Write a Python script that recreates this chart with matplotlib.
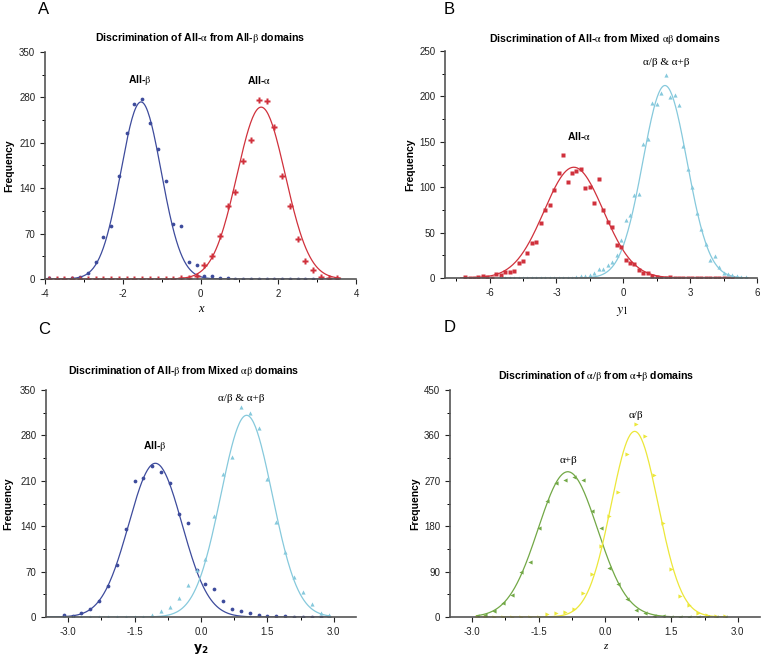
import numpy as np
import matplotlib
matplotlib.use("Agg")
import matplotlib.pyplot as plt
from matplotlib.ticker import MultipleLocator, FormatStrFormatter

plt.rcParams["font.family"] = ["Liberation Sans", "DejaVu Sans"]
plt.rcParams["axes.unicode_minus"] = False
plt.rcParams["mathtext.fontset"] = "stix"

# ---------------- Panel A: All-alpha vs All-beta ----------------
a_x = [-3.9, -3.7, -3.5, -3.3, -3.1, -2.9, -2.7, -2.5, -2.3, -2.1, -1.9, -1.7,
       -1.5, -1.3, -1.1, -0.9, -0.7, -0.5, -0.3, -0.1, 0.1, 0.3, 0.5, 0.7, 0.9,
       1.1, 1.3, 1.5, 1.7, 1.9, 2.1, 2.3, 2.5, 2.7, 2.9, 3.1, 3.3, 3.5]
a_beta = [1, 0, 0, 2, 3, 10, 26, 64, 81, 159, 225, 270, 277, 240, 200, 151, 85,
          81, 26, 22, 5, 4, 2, 1, 0.5, 0.5, 0.5, 0.5, 0.5, 0.5, 0.5, 0.5, 0.5,
          0.5, 0.5, 0.5, 0.5, 0.5]
a_alpha = [0.5, 0.5, 0.5, 0.5, 0.5, 0.5, 0.5, 0.5, 0.5, 0.5, 0.5, 0.5, 0.5,
           0.5, 0.5, 0.5, 0.5, 2, 2, 5, 21, 36, 67, 113, 134, 182, 214, 276,
           275, 235, 159, 113, 61, 27, 14, 3, 1, 1]
# gaussian fits: peak, centre, sigma
a_beta_fit = (273, -1.53, 0.52)
a_alpha_fit = (265, 1.56, 0.62)

# ---------------- Panel B: All-alpha vs mixed ----------------
b_red_x = [-7.1, -6.9, -6.7, -6.5, -6.3, -6.1, -5.9, -5.7, -5.5, -5.3, -5.1,
           -4.9, -4.7, -4.5, -4.3, -4.1, -3.9, -3.7, -3.5, -3.3, -3.1, -2.9,
           -2.7, -2.5, -2.3, -2.1, -1.9, -1.7, -1.5, -1.3, -1.1, -0.9, -0.7,
           -0.5, -0.3, -0.1, 0.1, 0.3, 0.5, 0.7, 0.9, 1.1, 1.3, 1.5, 1.7, 1.9,
           2.1, 2.3, 2.5, 2.7, 2.9, 3.1, 3.3, 3.5, 3.7, 3.9, 4.1, 4.3, 4.5,
           4.7, 4.9]
b_red = [1, 0, 0, 1.5, 2, 1.5, 0.5, 4, 3, 7, 7, 8, 17, 19, 27, 38, 40, 61, 75,
         80, 97, 116, 136, 106, 116, 118, 120, 99, 100, 83, 109, 75, 62, 56,
         36, 34, 20, 17, 15, 8.5, 5.5, 5.5, 2, 1, 0.5, 0.5, 1, 0.5, 0.5, 0.5,
         0.5, 0.5, 0.5, 0.5, 0.5, 0.5, 0.5, 0.5, 0.5, 0.5, 0.5]
b_cyan_x = [-5.5, -5.3, -5.1, -4.9, -4.7, -4.5, -4.3, -4.1, -3.9, -3.7, -3.5,
            -3.3, -3.1, -2.9, -2.7, -2.5, -2.3, -2.1, -1.9, -1.7, -1.5, -1.3,
            -1.1, -0.9, -0.7, -0.5, -0.3, -0.1, 0.1, 0.3, 0.5, 0.7, 0.9, 1.1,
            1.3, 1.5, 1.7, 1.9, 2.1, 2.3, 2.5, 2.7, 2.9, 3.1, 3.3, 3.5, 3.7,
            3.9, 4.1, 4.3, 4.5, 4.7, 4.9, 5.1, 5.3, 5.5]
b_cyan = [0.5, 0.5, 0.5, 0.5, 0.5, 0.5, 0.5, 0.5, 0.5, 0.5, 0.5, 0.5, 0.5,
          0.5, 0.5, 0.5, 0.5, 1, 2, 2, 3, 5, 10, 10, 14, 18, 25, 42, 64, 69,
          91, 93, 148, 153, 193, 192, 204, 224, 199, 202, 191, 145, 120, 100,
          72, 54, 37, 20, 24, 12, 6, 4, 3, 2, 1, 1.5]
b_red_fit = (122, -2.22, 1.33)
b_cyan_fit = (212, 1.87, 0.99)

# ---------------- Panel C: All-beta vs mixed ----------------
c_x = [-3.1, -2.9, -2.7, -2.5, -2.3, -2.1, -1.9, -1.7, -1.5, -1.3, -1.1, -0.9,
       -0.7, -0.5, -0.3, -0.1, 0.1, 0.3, 0.5, 0.7, 0.9, 1.1, 1.3, 1.5, 1.7,
       1.9, 2.1, 2.3, 2.5, 2.7, 2.9]
c_beta = [3, 1.5, 6, 12, 24, 48, 80, 135, 210, 215, 233, 224, 207, 159, 145,
          72, 51, 43, 24, 12, 10, 6, 2.6, 1.5, 1.5, 1, 0.5, 0.5, 0.5, 0.5, 0.5]
c_mixed = [0.5, 0.5, 0.5, 0.5, 0.5, 0.5, 0.5, 0.5, 0.5, 0.5, 3.5, 9, 15, 29,
           49, 72, 90, 156, 220, 246, 324, 314, 292, 213, 146, 100, 61, 38,
           20.5, 6, 3]
c_beta_fit = (237, -1.03, 0.60)
c_mixed_fit = (311, 1.03, 0.58)

# ---------------- Panel D: alpha/beta vs alpha+beta ----------------
d_x = [-2.9, -2.7, -2.5, -2.3, -2.1, -1.9, -1.7, -1.5, -1.3, -1.1, -0.9, -0.7,
       -0.5, -0.3, -0.1, 0.1, 0.3, 0.5, 0.7, 0.9, 1.1, 1.3, 1.5, 1.7, 1.9,
       2.1, 2.3, 2.5, 2.7]
d_apb = [2.6, 4.6, 12.5, 28, 43, 89, 109, 177, 230, 265, 271, 277, 272, 210,
         177, 98, 65, 35, 14, 8, 2.6, 1, 0.5, 0.5, 0.5, 0.5, 0.5, 0.5, 0.5]
d_aob = [0.5, 0.5, 0.5, 0.5, 0.5, 0.5, 0.5, 0.5, 5, 7, 9, 16, 47, 85, 140,
         200, 247, 324, 383, 358, 282, 187, 95, 41, 24, 8, 3, 1.5, 1]
d_apb_fit = (288, -0.84, 0.67)
d_aob_fit = (368, 0.67, 0.53)

navy = "#3d4b9c"
red = "#d0313c"
cyan = "#86c9dc"
green = "#72a846"
yellow = "#ece73a"

AL = r"$\mathrm{\alpha}$"
BE = r"$\mathrm{\beta}$"


def gauss(xs, fit):
    h, mu, s = fit
    return h * np.exp(-(xs - mu) ** 2 / (2 * s ** 2))


def style(ax, xlim, ylim, xmaj, ymaj, xfmt):
    ax.set_xlim(*xlim)
    ax.set_ylim(*ylim)
    ax.spines["top"].set_visible(False)
    ax.spines["right"].set_visible(False)
    for s in ("left", "bottom"):
        ax.spines[s].set_color("#555555")
        ax.spines[s].set_linewidth(1.2)
    ax.xaxis.set_major_locator(MultipleLocator(xmaj))
    ax.xaxis.set_minor_locator(MultipleLocator(xmaj / 2))
    ax.yaxis.set_major_locator(MultipleLocator(ymaj))
    ax.yaxis.set_minor_locator(MultipleLocator(ymaj / 2))
    ax.xaxis.set_major_formatter(FormatStrFormatter(xfmt))
    ax.tick_params(which="major", length=3.5, width=0.8, labelsize=7,
                   colors="#222222", direction="out")
    ax.tick_params(which="minor", length=2, width=0.7, direction="out")
    ax.set_ylabel("Frequency", fontsize=7.5, fontweight="bold")


def title(ax, txt, xc, yc):
    ax.text(xc, yc, txt, transform=ax.transAxes, ha="center", va="center",
            fontsize=7.6, fontweight="bold")


fig = plt.figure(figsize=(7.64, 6.59), dpi=100)
W, H = 764.0, 659.0


def make_axes(l, r, t, b):
    return fig.add_axes([l / W, 1 - b / H, (r - l) / W, (b - t) / H])


axA = make_axes(45, 356, 52, 279)
axB = make_axes(445, 757, 51, 278)
axC = make_axes(46, 356, 390, 617)
axD = make_axes(450, 760, 390, 617)

ms = 2.7

# A
xs = np.linspace(-4, 3.6, 300)
axA.plot(xs, gauss(xs, a_beta_fit), color=navy, lw=0.9)
axA.plot(xs, gauss(xs, a_alpha_fit), color=red, lw=0.9)
axA.plot(a_x, a_beta, "o", color=navy, ms=ms, mec="none")
axA.plot(a_x, a_alpha, "P", color=red, ms=ms + 1.0, mec="none")
style(axA, (-4, 4), (0, 350), 2, 70, "%g")
title(axA, "Discrimination of All-" + AL + " from All-" + BE + " domains", 0.5, 1.062)
axA.text(-1.55, 307, "All-" + BE, ha="center", va="center", fontsize=7.5, fontweight="bold")
axA.text(1.5, 307, "All-" + AL, ha="center", va="center", fontsize=7.5, fontweight="bold")
axA.set_xlabel("x", fontsize=9, family="Liberation Serif", style="italic")
axA.xaxis.set_label_coords(0.5, -0.105)
axA.yaxis.set_label_coords(-0.10, 0.5)

# B
xs_r = np.linspace(-7.3, 5.0, 300)
xs_c = np.linspace(-5.6, 5.6, 300)
axB.plot(xs_r, gauss(xs_r, b_red_fit), color=red, lw=0.9)
axB.plot(xs_c, gauss(xs_c, b_cyan_fit), color=cyan, lw=0.9)
axB.plot(b_red_x, b_red, "s", color=red, ms=ms, mec="none")
axB.plot(b_cyan_x, b_cyan, "^", color=cyan, ms=ms + 0.3, mec="none")
style(axB, (-8, 6), (0, 250), 3, 50, "%g")
title(axB, "Discrimination of All-" + AL + " from Mixed " + r"$\mathrm{\alpha\beta}$" + " domains",
      0.511, 1.052)
axB.text(-1.99, 156, "All-" + AL, ha="center", va="center", fontsize=7.5, fontweight="bold")
axB.text(1.92, 237, "α/β & α+β", ha="center", va="center", fontsize=8, family="Liberation Serif")
axB.set_xlabel(r"$y_1$", fontsize=10)
axB.xaxis.set_label_coords(0.567, -0.115)
axB.yaxis.set_label_coords(-0.096, 0.5)

# C
xs = np.linspace(-3.5, 2.9, 300)
axC.plot(xs, gauss(xs, c_beta_fit), color=navy, lw=0.9)
axC.plot(xs, gauss(xs, c_mixed_fit), color=cyan, lw=0.9)
axC.plot(c_x, c_beta, "o", color=navy, ms=ms, mec="none")
axC.plot(c_x, c_mixed, "^", color=cyan, ms=ms + 0.3, mec="none")
style(axC, (-3.5, 3.5), (0, 350), 1.5, 70, "%.1f")
title(axC, "Discrimination of All-" + BE + " from Mixed " + r"$\mathrm{\alpha\beta}$" + " domains",
      0.444, 1.084)
axC.text(-1.04, 264, "All-" + BE, ha="center", va="center", fontsize=7.5, fontweight="bold")
axC.text(0.9, 337, "α/β & α+β", ha="center", va="center", fontsize=8, family="Liberation Serif")
axC.set_xlabel(r"$\mathbf{y_2}$", fontsize=9, math_fontfamily="dejavusans")
axC.xaxis.set_label_coords(0.5, -0.11)
axC.yaxis.set_label_coords(-0.106, 0.5)

# D
xs = np.linspace(-2.9, 2.7, 300)
axD.plot(xs, gauss(xs, d_apb_fit), color=green, lw=0.9)
axD.plot(xs, gauss(xs, d_aob_fit), color=yellow, lw=0.9)
axD.plot(d_x, d_apb, "<", color=green, ms=ms + 0.3, mec="none")
axD.plot(d_x, d_aob, ">", color=yellow, ms=ms + 0.3, mec="none")
style(axD, (-3.5, 3.5), (0, 450), 1.5, 90, "%.1f")
title(axD, "Discrimination of " + r"$\mathrm{\alpha/\beta}$" + " from " + AL + "+" + BE
      + " domains", 0.471, 1.062)
axD.text(0.70, 400, "α/β", ha="center", va="center", fontsize=8, family="Liberation Serif")
axD.text(-0.835, 311, "α+β", ha="center", va="center", fontsize=8, family="Liberation Serif")
axD.set_xlabel("z", fontsize=8, family="Liberation Serif", style="italic")
axD.xaxis.set_label_coords(0.5, -0.11)
axD.yaxis.set_label_coords(-0.097, 0.5)

# panel letters
for lab, px, py in [("A", 38, 10), ("B", 444, 10), ("C", 38, 330), ("D", 444, 328)]:
    fig.text(px / W, 1 - py / H, lab, fontsize=12, ha="left", va="center")

fig.savefig("out.png", dpi=100)
